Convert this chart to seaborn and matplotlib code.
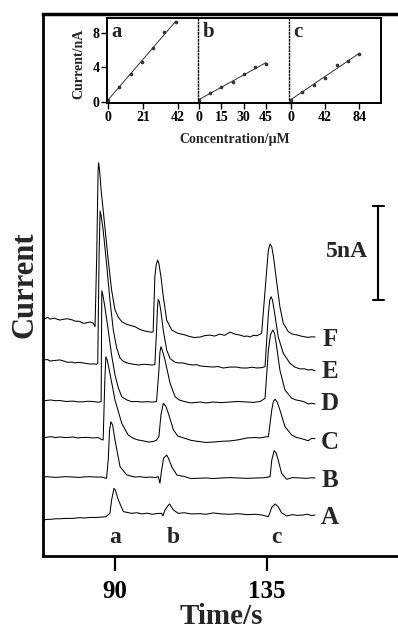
import numpy as np
import pandas as pd
import matplotlib
matplotlib.use('Agg')
import matplotlib.pyplot as plt
import seaborn as sns

sns.set_theme(style='white')
plt.rcParams['font.family'] = ['Liberation Serif', 'DejaVu Serif']
plt.rcParams['font.weight'] = 'bold'

# ---------------- main chromatograms (time s, current nA) ----------------
F_t = [68.7, 70.0, 70.8, 72.0, 73.7, 75.0, 76.0, 77.5, 78.0, 79.5, 80.5, 81.1, 82.6, 83.5, 84.1,
       84.6, 85.0, 85.15, 85.4, 85.9, 87.0, 88.0, 89.0, 90.0, 91.0, 92.0, 93.5, 95.9, 97.4, 98.6,
       99.9, 100.9, 101.3, 101.8, 102.2, 102.6, 103.0, 103.6, 104.3, 105.3, 106.8, 108.5, 110.7,
       112.0, 113.5, 115.2, 116.5, 118.0, 119.5, 121.0, 122.5, 124.0, 125.5, 127.0, 128.2, 129.1,
       130.0, 131.0, 132.0, 133.0, 133.4, 134.9, 135.4, 135.9, 136.4, 136.9, 137.9, 138.8, 139.8,
       141.3, 142.5, 143.8, 145.0, 146.0, 147.2, 148.2, 149.2]
F_i = [12.55, 12.70, 12.60, 12.65, 12.55, 12.60, 12.62, 12.55, 12.50, 12.48, 12.39, 12.38, 12.45, 12.40, 12.20,
       16.0, 20.5, 20.92, 20.6, 19.47, 17.52, 15.74, 14.15, 13.09, 12.70, 12.46, 12.32, 12.20, 12.05, 11.98,
       11.93, 11.90, 11.93, 14.86, 15.5, 15.74, 15.55, 14.86, 13.79, 12.55, 12.02, 11.85, 11.76,
       11.68, 11.62, 11.65, 11.72, 11.75, 11.70, 11.80, 11.74, 11.91, 11.80, 11.75, 11.68, 11.70,
       11.65, 11.74, 11.72, 11.80, 11.85, 15.21, 16.28, 16.60, 16.44, 15.92, 14.51, 13.26, 12.38,
       11.93, 11.80, 11.76, 11.70, 11.66, 11.63, 11.66, 11.65]

E_t = [68.7, 70.0, 70.8, 72.2, 73.7, 75.0, 76.0, 77.3, 78.0, 79.4, 80.5, 81.6, 82.6, 83.6, 84.5,
       84.9, 85.3, 85.6, 85.9, 86.5, 87.5, 88.5, 89.5, 90.5, 91.5, 92.5, 93.9, 95.5, 97.0, 98.5,
       99.8, 100.9, 101.8, 102.3, 102.6, 102.8, 103.1, 103.6, 104.3, 105.3, 106.3, 107.8, 109.0,
       110.1, 111.5, 113.0, 114.2, 115.2, 117.0, 119.0, 120.5, 122.0, 124.0, 126.0, 127.5, 129.1,
       130.5, 132.0, 133.5, 134.4, 135.4, 135.8, 136.2, 136.6, 137.1, 138.3, 139.8, 141.8, 143.2,
       144.8, 146.0, 147.2, 148.2, 149.2]
E_i = [10.43, 10.45, 10.37, 10.40, 10.43, 10.36, 10.30, 10.32, 10.27, 10.30, 10.27, 10.24, 10.21, 10.22, 10.20,
       10.25, 16.0, 18.35, 18.1, 17.34, 15.57, 13.62, 12.02, 11.06, 10.53, 10.35, 10.25, 10.20, 10.16, 10.20,
       10.18, 10.16, 10.18, 12.0, 13.3, 13.65, 13.55, 13.0, 12.0, 10.96, 10.5, 10.3, 10.27,
       10.27, 10.20, 10.16, 10.18, 10.11, 10.08, 10.05, 10.08, 10.00, 10.05, 10.05, 10.00, 10.00,
       10.04, 10.00, 10.02, 10.07, 12.91, 13.62, 13.79, 13.62, 13.09, 11.66, 10.78, 10.25, 10.05,
       9.95, 9.96, 9.89, 9.92, 9.85]

D_t = [68.7, 70.0, 71.0, 72.3, 73.7, 75.5, 77.6, 79.0, 80.5, 82.0, 83.5, 85.0, 85.9, 86.1, 86.4,
       87.0, 88.0, 89.0, 90.0, 91.0, 92.0, 93.5, 94.9, 96.5, 98.0, 99.5, 101.0, 102.3, 103.0, 103.3,
       103.6, 103.9, 104.8, 106.3, 107.8, 109.0, 110.7, 112.5, 114.0, 115.2, 117.0, 119.0, 121.5,
       124.0, 126.5, 129.1, 131.0, 133.0, 134.4, 135.4, 136.0, 136.7, 137.2, 137.7, 138.8, 140.3,
       142.3, 143.6, 144.8, 146.0, 147.2, 148.2, 149.2]
D_i = [8.24, 8.28, 8.30, 8.26, 8.27, 8.22, 8.24, 8.20, 8.20, 8.23, 8.22, 8.18, 8.21, 14.11, 13.9,
       13.26, 12.02, 10.69, 9.63, 8.94, 8.47, 8.30, 8.21, 8.22, 8.19, 8.21, 8.19, 8.21, 9.89, 10.85,
       11.13, 11.0, 10.43, 9.19, 8.47, 8.30, 8.21, 8.14, 8.17, 8.19, 8.14, 8.19, 8.16,
       8.19, 8.22, 8.19, 8.17, 8.22, 8.39, 10.96, 11.76, 12.02, 11.86, 11.31, 9.89, 8.83,
       8.39, 8.30, 8.26, 8.20, 8.09, 8.12, 8.09]

C_t = [68.7, 70.0, 71.0, 72.4, 73.7, 75.5, 77.6, 79.0, 80.0, 81.8, 83.5, 85.0, 86.0, 86.5, 87.0,
       87.3, 87.7, 88.5, 90.0, 92.0, 93.9, 95.5, 96.9, 98.5, 100.0, 101.5, 102.3, 103.0, 103.6, 104.3,
       105.0, 105.8, 107.3, 108.6, 110.7, 112.5, 115.2, 117.0, 119.0, 121.5, 124.0, 126.5, 129.1,
       131.5, 133.0, 134.4, 135.4, 136.4, 136.9, 137.4, 138.0, 138.8, 140.3, 142.3, 143.5, 144.8,
       146.0, 147.2, 148.2, 149.2]
C_i = [6.30, 6.32, 6.35, 6.30, 6.33, 6.30, 6.33, 6.28, 6.30, 6.31, 6.28, 6.30, 6.20, 6.17, 9.36,
       10.60, 10.43, 9.72, 8.30, 7.06, 6.44, 6.25, 6.17, 6.12, 6.06, 6.10, 6.17, 6.35, 7.50, 8.12,
       7.98, 7.59, 6.70, 6.38, 6.26, 6.15, 6.08, 6.04, 6.06, 6.10, 6.12, 6.18, 6.28,
       6.30, 6.28, 6.33, 6.35, 7.77, 8.24, 8.34, 8.19, 7.77, 6.88, 6.44, 6.32, 6.26,
       6.20, 6.13, 6.26, 6.24]

B_t = [68.7, 70.0, 71.0, 72.5, 73.7, 75.5, 77.6, 79.5, 81.0, 82.6, 84.0, 86.0, 87.5, 88.0, 88.4,
       88.8, 89.3, 90.0, 91.5, 93.5, 95.9, 97.4, 99.0, 100.5, 102.0, 102.8, 103.3, 103.8, 104.4, 105.3,
       105.8, 106.8, 108.3, 110.7, 112.5, 115.2, 117.0, 119.0, 121.5, 124.0, 126.5, 129.1, 131.5,
       134.0, 135.9, 136.4, 137.1, 137.7, 138.3, 139.3, 140.8, 142.5, 144.8, 146.5, 148.0, 149.2]
B_i = [4.20, 4.22, 4.20, 4.18, 4.20, 4.22, 4.20, 4.18, 4.21, 4.22, 4.20, 4.20, 4.13, 5.11, 6.70,
       7.14, 6.97, 6.17, 4.75, 4.31, 4.20, 4.22, 4.18, 4.20, 4.17, 4.22, 3.87, 4.57, 5.21, 5.37,
       5.21, 4.75, 4.31, 4.22, 4.12, 4.14, 4.15, 4.12, 4.15, 4.17, 4.15, 4.13, 4.15,
       4.16, 4.22, 5.11, 5.60, 5.48, 5.11, 4.40, 4.08, 4.17, 4.15, 4.13, 4.16, 4.15]

A_t = [68.7, 70.0, 71.0, 72.4, 73.7, 75.5, 77.6, 79.5, 81.0, 82.6, 84.5, 86.0, 87.3, 88.5, 89.0,
       89.7, 90.1, 91.0, 92.5, 94.9, 96.5, 98.0, 99.5, 101.0, 102.5, 103.8, 104.2, 104.8, 106.1, 107.3,
       108.7, 110.5, 112.5, 115.2, 117.0, 119.0, 121.5, 124.0, 126.5, 129.1, 131.5, 133.5, 135.4,
       136.4, 137.4, 138.3, 139.3, 140.8, 142.5, 144.0, 145.5, 147.0, 148.2, 149.2]
A_i = [1.91, 1.95, 1.95, 1.98, 1.98, 2.00, 2.00, 2.04, 2.02, 2.05, 2.05, 2.07, 2.09, 2.27, 2.98,
       3.60, 3.51, 2.98, 2.36, 2.27, 2.30, 2.24, 2.28, 2.22, 2.26, 2.27, 2.13, 2.45, 2.77, 2.45,
       2.27, 2.30, 2.24, 2.25, 2.22, 2.29, 2.24, 2.22, 2.25, 2.20, 2.22, 2.18, 2.09,
       2.59, 2.77, 2.62, 2.30, 2.13, 2.20, 2.16, 2.18, 2.22, 2.15, 2.18]

trace_names = ["A", "B", "C", "D", "E", "F"]
trace_label_y = [2.07, 4.04, 6.06, 8.09, 9.79, 11.49]
peak_names = ["a", "b", "c"]
peak_label_t = [90.0, 107.2, 137.7]
time_ticks = [90, 135]
scale_bar_nA = 5

# ---------------- inset calibration data ----------------
conc_a = [0, 6.6, 13.6, 20.2, 26.8, 33.8, 40.8]
cur_a = [0.25, 1.75, 3.3, 4.6, 6.2, 8.1, 9.2]
conc_b = [0, 7.5, 15, 22.5, 30, 37.5, 45]
cur_b = [0.3, 1.0, 1.7, 2.3, 3.3, 4.0, 4.4]
conc_c = [0, 14, 28, 42, 56, 70, 84]
cur_c = [0.3, 1.2, 2.0, 2.8, 4.3, 4.7, 5.5]
ticks_a = [0, 21, 42]
ticks_b = [0, 15, 30, 45]
ticks_c = [0, 42, 84]
ticks_y = [0, 4, 8]

W, H = 398, 629
fig = plt.figure(figsize=(W / 100, H / 100), dpi=100)

# main axes: left spine px 43, bottom px 556, top px 14, right beyond edge
ax = fig.add_axes([43 / W, (H - 556) / H, (410 - 43) / W, (556 - 14) / H])
data = {"A": (A_t, A_i), "B": (B_t, B_i), "C": (C_t, C_i),
        "D": (D_t, D_i), "E": (E_t, E_i), "F": (F_t, F_i)}
for name in trace_names:
    t, i = data[name]
    df = pd.DataFrame({"t": t, "i": i})
    sns.lineplot(data=df, x="t", y="i", ax=ax, color="black", lw=0.75,
                 sort=False, estimator=None)

ax.set_xlim(68.7, 177.3)
ax.set_ylim(0, 28.83)
ax.set_xticks(time_ticks)
ax.set_xticklabels([str(v) for v in time_ticks])
ax.set_yticks([])
ax.tick_params(axis='x', direction='out', length=11, width=1.6, labelsize=18,
               pad=6, bottom=True, colors='black')
for lab in ax.get_xticklabels():
    lab.set_fontweight('bold')
ax.spines['right'].set_visible(False)
for s, lw in [('left', 2.0), ('bottom', 2.0), ('top', 2.5)]:
    ax.spines[s].set_linewidth(lw)
    ax.spines[s].set_color('black')
ax.set_xlabel("Time/s", fontsize=21, fontweight='bold')
ax.xaxis.label.set_va('baseline')
ax.xaxis.set_label_coords((221 - 43) / (410 - 43), (556 - 624) / (556 - 14))
ax.set_ylabel("")
ax.text(-0.05, 0.50, "Current", transform=ax.transAxes, rotation=90,
        ha='center', va='center', fontsize=22, fontweight='bold')

for name, y in zip(trace_names, trace_label_y):
    ax.text(153.6, y, name, ha='center', va='center', fontsize=18, fontweight='bold')
for name, t in zip(peak_names, peak_label_t):
    ax.text(t, 0.69, name, ha='center', va='baseline', fontsize=17, fontweight='bold')

# scale bar
bar_x, bar_top = 167.9, 18.62
ax.plot([bar_x, bar_x], [bar_top, bar_top - scale_bar_nA], color='black', lw=1.5)
for yy in (bar_top, bar_top - scale_bar_nA):
    ax.plot([bar_x - 1.6, bar_x + 1.6], [yy, yy], color='black', lw=1.5)
ax.text(164.9, bar_top - scale_bar_nA / 2 + 0.1, f"{scale_bar_nA}nA", ha='right', va='center',
        fontsize=17, fontweight='bold')

# ---------------- inset ----------------
ib, it = 103, 18
panels = [(107, 198, (-0.6, 54.0), conc_a, cur_a, ticks_a, "a"),
          (198, 289, (-0.67, 60.4), conc_b, cur_b, ticks_b, "b"),
          (289, 381, (-2.5, 110.6), conc_c, cur_c, ticks_c, "c")]
for k, (x0, x1, xl, cx, cy, tk, lab) in enumerate(panels):
    iax = fig.add_axes([x0 / W, (H - ib) / H, (x1 - x0) / W, (ib - it) / H])
    iax.set_facecolor('white')
    sns.regplot(x=np.array(cx), y=np.array(cy), ax=iax, ci=None, color='black',
                scatter_kws={"s": 7, "color": "black", "linewidths": 0},
                line_kws={"lw": 0.7, "color": "#333333"})
    iax.set_xlim(*xl)
    iax.set_ylim(-0.1, 9.7)
    iax.set_xlabel("")
    iax.set_ylabel("")
    iax.set_xticks(tk)
    iax.set_xticklabels([str(v) for v in tk])
    iax.tick_params(axis='x', direction='out', length=4, width=1.0, labelsize=10,
                    pad=2, bottom=True, colors='black')
    if k == 0:
        iax.set_yticks(ticks_y)
        iax.set_yticklabels([str(v) for v in ticks_y])
        iax.tick_params(axis='y', direction='out', length=4, width=1.0, labelsize=10,
                        pad=1.5, left=True, colors='black')
    else:
        iax.set_yticks([])
    for lb in iax.get_xticklabels() + iax.get_yticklabels():
        lb.set_fontweight('bold')
    for s in ['top', 'bottom', 'left', 'right']:
        iax.spines[s].set_color('black')
        iax.spines[s].set_linewidth(1.4)
    if k > 0:
        iax.spines['left'].set_linestyle((0, (1, 1.5)))
        iax.spines['left'].set_linewidth(1.0)
    if k < 2:
        iax.spines['right'].set_visible(False)
    iax.text(0.05, 0.95, lab, transform=iax.transAxes, ha='left', va='top',
             fontsize=15, fontweight='bold')

fig.text(79 / W, 1 - 64 / H, "Current/nA", rotation=90, ha='center', va='center',
         fontsize=10, fontweight='bold')
fig.text(235 / W, 1 - 140 / H, "Concentration/\u03bcM", ha='center', va='center',
         fontsize=10, fontweight='bold')

fig.savefig("out.png", dpi=100, facecolor='white')
